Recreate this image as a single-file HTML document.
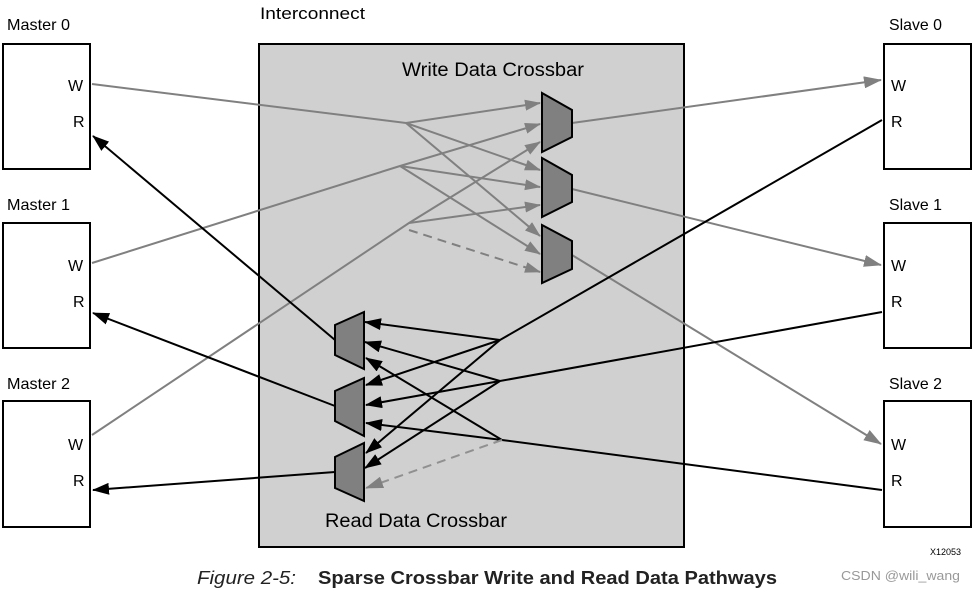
<!DOCTYPE html>
<html><head><style>
body{margin:0;background:#fff;}
svg text{font-family:"Liberation Sans",sans-serif;}
</style></head><body>
<svg width="975" height="591" viewBox="0 0 975 591" xmlns="http://www.w3.org/2000/svg">
<defs>
<marker id="ag" markerWidth="16" markerHeight="11" refX="15" refY="5.5" orient="auto" markerUnits="userSpaceOnUse" viewBox="0 0 16 11"><path d="M0,0 L16,5.5 L0,11 z" fill="#808080"/></marker>
<marker id="ak" markerWidth="17" markerHeight="12" refX="16" refY="6" orient="auto" markerUnits="userSpaceOnUse" viewBox="0 0 17 12"><path d="M0,0 L17,6 L0,12 z" fill="#000"/></marker>
<marker id="agl" markerWidth="18" markerHeight="12" refX="17" refY="6" orient="auto" markerUnits="userSpaceOnUse" viewBox="0 0 18 12"><path d="M0,0 L18,6 L0,12 z" fill="#808080"/></marker>
</defs>
<rect x="259" y="44" width="425" height="503" fill="#d0d0d0" stroke="#000" stroke-width="2"/>
<text x="260" y="19" font-size="17" textLength="105" lengthAdjust="spacingAndGlyphs">Interconnect</text>
<text x="402" y="76" font-size="19" textLength="182" lengthAdjust="spacingAndGlyphs">Write Data Crossbar</text>
<text x="325" y="527" font-size="19" textLength="182" lengthAdjust="spacingAndGlyphs">Read Data Crossbar</text>
<g fill="#fff" stroke="#000" stroke-width="2">
<rect x="3" y="44" width="87" height="125"/><rect x="3" y="223" width="87" height="125"/><rect x="3" y="401" width="87" height="126"/>
<rect x="884" y="44" width="87" height="125"/><rect x="884" y="223" width="87" height="125"/><rect x="884" y="401" width="87" height="126"/>
</g>
<g font-size="16">
<text x="7" y="30" textLength="63" lengthAdjust="spacingAndGlyphs">Master 0</text><text x="7" y="210" textLength="63" lengthAdjust="spacingAndGlyphs">Master 1</text><text x="7" y="389" textLength="63" lengthAdjust="spacingAndGlyphs">Master 2</text>
<text x="889" y="30" textLength="53" lengthAdjust="spacingAndGlyphs">Slave 0</text><text x="889" y="210" textLength="53" lengthAdjust="spacingAndGlyphs">Slave 1</text><text x="889" y="389" textLength="53" lengthAdjust="spacingAndGlyphs">Slave 2</text>
<text x="68" y="91">W</text><text x="73" y="127">R</text>
<text x="68" y="271">W</text><text x="73" y="307">R</text>
<text x="68" y="450">W</text><text x="73" y="486">R</text>
<text x="891" y="91">W</text><text x="891" y="127">R</text>
<text x="891" y="271">W</text><text x="891" y="307">R</text>
<text x="891" y="450">W</text><text x="891" y="486">R</text>
</g>
<g stroke="#808080" stroke-width="2" fill="none">
<polyline points="92,84 406,123 540,103" marker-end="url(#ag)"/>
<line x1="406" y1="123" x2="540" y2="170" marker-end="url(#ag)"/>
<line x1="406" y1="123" x2="540" y2="236" marker-end="url(#ag)"/>
<polyline points="92,263 400,166 540,124" marker-end="url(#ag)"/>
<line x1="400" y1="166" x2="540" y2="187" marker-end="url(#ag)"/>
<line x1="400" y1="166" x2="540" y2="254" marker-end="url(#ag)"/>
<polyline points="92,435 409,223 540,142" marker-end="url(#ag)"/>
<line x1="409" y1="223" x2="540" y2="205" marker-end="url(#ag)"/>
<line x1="409" y1="230" x2="540" y2="272" stroke-dasharray="9,6" marker-end="url(#ag)"/>
<line x1="572" y1="123" x2="881" y2="80" marker-end="url(#agl)"/>
<line x1="572" y1="189" x2="881" y2="265" marker-end="url(#agl)"/>
<line x1="572" y1="255" x2="881" y2="444" marker-end="url(#agl)"/>
</g>
<g stroke="#000" stroke-width="2" fill="none">
<polyline points="882,120 500,340 365,322" marker-end="url(#ak)"/>
<line x1="500" y1="340" x2="366" y2="385" marker-end="url(#ak)"/>
<line x1="500" y1="340" x2="366" y2="453" marker-end="url(#ak)"/>
<polyline points="882,312 500,381 365,342" marker-end="url(#ak)"/>
<line x1="500" y1="381" x2="366" y2="405" marker-end="url(#ak)"/>
<line x1="500" y1="381" x2="365" y2="468" marker-end="url(#ak)"/>
<polyline points="882,490 502,440 366,358" marker-end="url(#ak)"/>
<line x1="502" y1="440" x2="366" y2="423" marker-end="url(#ak)"/>
<line x1="335" y1="340" x2="93" y2="136" marker-end="url(#ak)"/>
<line x1="335" y1="406" x2="93" y2="313" marker-end="url(#ak)"/>
<line x1="335" y1="472" x2="93" y2="490" marker-end="url(#ak)"/>
</g>
<line x1="502" y1="440" x2="366" y2="488" stroke="#909090" stroke-width="2" stroke-dasharray="9,6" marker-end="url(#agl)"/>
<g fill="#808080" stroke="#000" stroke-width="2">
<polygon points="542,93 572,110 572,137 542,152"/>
<polygon points="542,158 572,175 572,202 542,217"/>
<polygon points="542,225 572,241 572,269 542,283"/>
<polygon points="364,312 335,325 335,355 364,369"/>
<polygon points="364,378 335,391 335,421 364,436"/>
<polygon points="364,443 335,457 335,488 364,501"/>
</g>
<text x="930" y="555" font-size="9">X12053</text>
<text x="197" y="584" font-size="18" font-style="italic" fill="#222" textLength="99" lengthAdjust="spacingAndGlyphs">Figure 2-5:</text>
<text x="318" y="584" font-size="18" font-weight="bold" fill="#222" textLength="459" lengthAdjust="spacingAndGlyphs">Sparse Crossbar Write and Read Data Pathways</text>
<text x="841" y="580" font-size="13" fill="#999" textLength="119" lengthAdjust="spacingAndGlyphs">CSDN @wili_wang</text>
</svg>
</body></html>
